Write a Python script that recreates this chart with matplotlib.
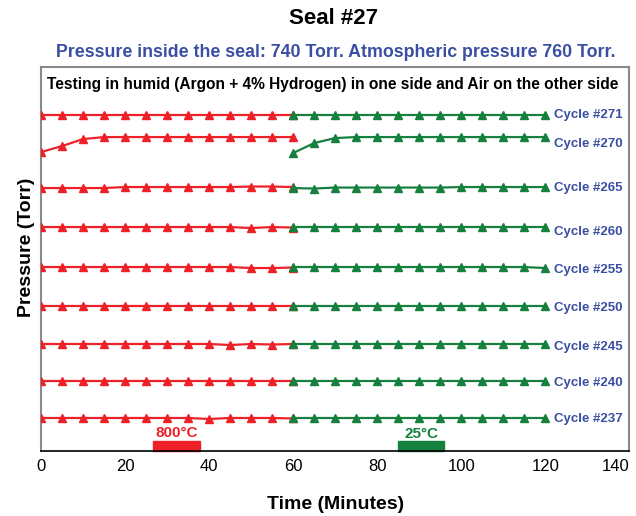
import matplotlib
matplotlib.use('Agg')
import matplotlib.pyplot as plt
from matplotlib.patches import Rectangle

plt.rcParams['font.family'] = ['Liberation Sans', 'DejaVu Sans']

# time points (minutes)
t_hot = [0, 5, 10, 15, 20, 25, 30, 35, 40, 45, 50, 55, 60]
t_cold = [60, 65, 70, 75, 80, 85, 90, 95, 100, 105, 110, 115, 120]

# relative pressure traces (stacked, arbitrary offset per cycle)
cycles = ['Cycle #271', 'Cycle #270', 'Cycle #265', 'Cycle #260', 'Cycle #255',
          'Cycle #250', 'Cycle #245', 'Cycle #240', 'Cycle #237']
hot = [
    [336, 336, 336, 336, 336, 336, 336, 336, 336, 336, 336, 336, 336],
    [299, 305, 312, 314, 314, 314, 314, 314, 314, 314, 314, 314, 314],
    [263, 263, 263, 263, 264, 264, 264, 264, 264, 264, 264.5, 264.5, 264],
    [224, 224, 224, 224, 224, 224, 224, 224, 224, 224, 223, 224, 223.5],
    [184, 184, 184, 184, 184, 184, 184, 184, 184, 184, 183, 183, 183.5],
    [145, 145, 145, 145, 145, 145, 145, 145, 145, 145, 145, 145, 145],
    [107, 107, 107, 107, 107, 107, 107, 107, 107, 106, 107, 106.5, 107],
    [70, 70, 70, 70, 70, 70, 70, 70, 70, 70, 70, 70, 70],
    [33, 33, 33, 33, 33, 33, 33, 33, 32, 33, 33, 33, 32.5],
]
cold = [
    [336, 336, 336, 336, 336, 336, 336, 336, 336, 336, 336, 336, 336],
    [298, 308, 313, 314, 314, 314, 314, 314, 314, 314, 314, 314, 314],
    [263, 262.5, 263.5, 263.5, 263.5, 263.5, 263.5, 263.5, 264, 264, 264, 264, 264],
    [224, 224, 224, 224, 224, 224, 224, 224, 224, 224, 224, 224, 224],
    [184, 184, 184, 184, 184, 184, 184, 184, 184, 184, 184, 184, 183],
    [145, 145, 145, 145, 145, 145, 145, 145, 145, 145, 145, 145, 145],
    [107, 107, 107, 107, 107, 107, 107, 107, 107, 107, 107, 107, 107],
    [70, 70, 70, 70, 70, 70, 70, 70, 70, 70, 70, 70, 70],
    [32.5, 32.5, 32.5, 32.5, 32.5, 32.5, 32.5, 32.5, 32.5, 32.5, 32.5, 32.5, 32.5],
]
label_y = [336, 307, 263, 219, 181, 143, 104, 68, 32]

red = '#ee2128'
green = '#16803f'
blue = '#3a4fa3'

fig = plt.figure(figsize=(6.36, 5.16), dpi=100)
ax = fig.add_axes([0.0645, 0.126, 0.925, 0.744])

for i in range(len(cycles)):
    ax.plot(t_hot, hot[i], color=red, lw=1.6, marker='^', ms=6, mec=red, zorder=3)
    ax.plot(t_cold, cold[i], color=green, lw=1.6, marker='^', ms=6, mec=green, zorder=4)
    ax.text(122, label_y[i], cycles[i], color=blue, fontsize=9.5, fontweight='bold',
            va='center', ha='left')

# temperature bars
ax.add_patch(Rectangle((26.7, 0), 11.2, 10, color=red, clip_on=False))
ax.add_patch(Rectangle((85, 0), 11, 10, color=green, clip_on=False))
ax.text(32.3, 11, '800°C', color=red, fontsize=11, fontweight='bold', ha='center', va='bottom')
ax.text(90.5, 10, '25°C', color=green, fontsize=11, fontweight='bold', ha='center', va='bottom')

ax.text(1.5, 367, 'Testing in humid (Argon + 4% Hydrogen) in one side and Air on the other side',
        fontsize=11.2, fontweight='bold', va='center', ha='left')

ax.set_xlim(0, 140)
ax.set_ylim(0, 384)
ax.set_xticks(range(0, 141, 20))
ax.set_yticks([])
ax.tick_params(axis='x', labelsize=12, length=0, pad=6)
ax.get_xticklabels()[-1].set_ha('right')
for s in ['left', 'top', 'right']:
    ax.spines[s].set_color('#8a8a8a')
    ax.spines[s].set_linewidth(1.5)
ax.spines['bottom'].set_linewidth(1.2)

ax.set_xlabel('Time (Minutes)', fontsize=14, fontweight='bold')
ax.xaxis.set_label_coords(0.5, -0.117)
ax.set_ylabel('Pressure (Torr)', fontsize=14, fontweight='bold')
ax.yaxis.set_label_coords(-0.01, 0.53)

fig.text(0.524, 0.965, 'Seal #27', fontsize=16, fontweight='bold', ha='center', va='center')
fig.text(0.528, 0.899, 'Pressure inside the seal: 740 Torr. Atmospheric pressure 760 Torr.',
         fontsize=12.8, fontweight='bold', color=blue, ha='center', va='center')

fig.savefig('out.png', dpi=100)
